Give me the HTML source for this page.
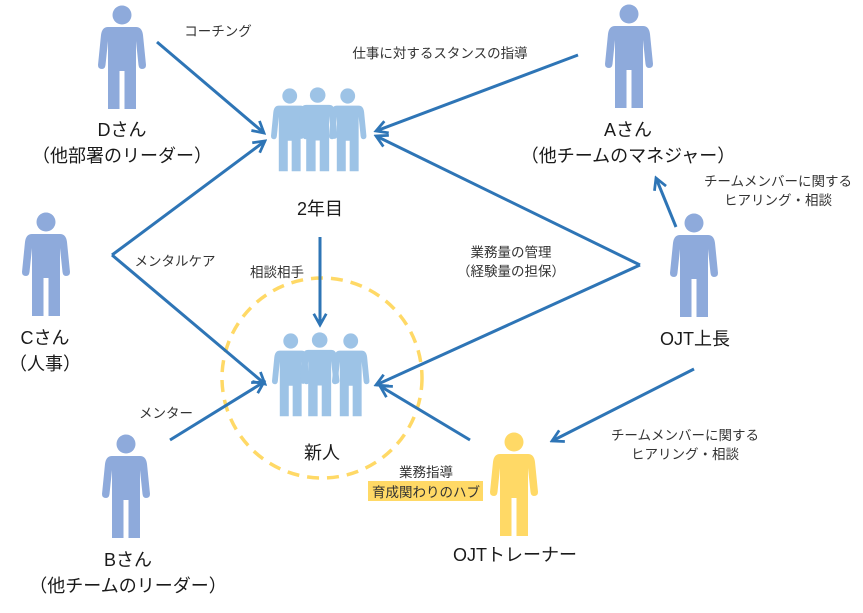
<!DOCTYPE html>
<html><head><meta charset="utf-8">
<style>
html,body{margin:0;padding:0;background:#fff;}
svg{display:block;}
text{font-family:"Liberation Sans","Noto Sans CJK JP",sans-serif;fill:#1a1a1a;}
.big{font-size:18px;}
.sm{font-size:13.5px;fill:#333;}
</style></head><body>
<svg width="863" height="613" viewBox="0 0 863 613" xmlns="http://www.w3.org/2000/svg">
<defs>
<g id="p">
<circle cx="24" cy="10" r="9.5"/>
<path d="M10 22 H38 Q44 22 45 30 L48 60 Q48 64 44 64 Q41 64 40.5 60 L38 36 V104 H26.5 V66 H21.5 V104 H10 V36 L7.5 60 Q7 64 4 64 Q0 64 0 60 L3 30 Q4 22 10 22 Z"/>
</g>
<marker id="a" viewBox="0 0 12 12" refX="10" refY="6" markerWidth="5" markerHeight="5" orient="auto" markerUnits="strokeWidth">
<path d="M1 1 L10 6 L1 11" fill="none" stroke="#2e75b6" stroke-width="2.2"/>
</marker>
</defs>

<circle cx="322" cy="378" r="100" fill="none" stroke="#ffd966" stroke-width="3.5" stroke-dasharray="12 8"/>

<use href="#p" x="98" y="5" fill="#8eaadb"/>
<use href="#p" x="605" y="4" fill="#8eaadb"/>
<use href="#p" x="22" y="212" fill="#8eaadb"/>
<use href="#p" x="670" y="213" fill="#8eaadb"/>
<use href="#p" x="102" y="434" fill="#8eaadb"/>
<use href="#p" x="490" y="432" fill="#ffd966"/>

<g fill="#9dc3e6">
<use href="#p" transform="translate(271,88) scale(0.78,0.8)"/>
<use href="#p" transform="translate(329,88) scale(0.78,0.8)"/>
<use href="#p" transform="translate(298,87) scale(0.82,0.81)"/>
<use href="#p" transform="translate(272,333) scale(0.78,0.8)"/>
<use href="#p" transform="translate(332,333) scale(0.78,0.8)"/>
<use href="#p" transform="translate(300,332) scale(0.82,0.81)"/>
</g>

<g stroke="#2e75b6" stroke-width="3" fill="none">
<line x1="157" y1="42" x2="264" y2="133" marker-end="url(#a)"/>
<line x1="112" y1="255" x2="265" y2="141" marker-end="url(#a)"/>
<line x1="112" y1="255" x2="265" y2="384" marker-end="url(#a)"/>
<line x1="578" y1="55" x2="376" y2="131" marker-end="url(#a)"/>
<line x1="640" y1="265" x2="376" y2="136" marker-end="url(#a)"/>
<line x1="640" y1="265" x2="376" y2="385" marker-end="url(#a)"/>
<line x1="320" y1="237" x2="320" y2="325" marker-end="url(#a)"/>
<line x1="170" y1="440" x2="264" y2="382" marker-end="url(#a)"/>
<line x1="470" y1="440" x2="380" y2="386" marker-end="url(#a)"/>
<line x1="676" y1="227" x2="656" y2="178" marker-end="url(#a)"/>
<line x1="694" y1="369" x2="552" y2="441" marker-end="url(#a)"/>
</g>

<rect x="368" y="481" width="115" height="20" fill="#ffd966"/>

<g text-anchor="middle">
<text class="big" x="122" y="136">Dさん</text>
<text class="big" x="122" y="162">（他部署のリーダー）</text>
<text class="big" x="320" y="215">2年目</text>
<text class="big" x="628" y="136">Aさん</text>
<text class="big" x="628" y="162">（他チームのマネジャー）</text>
<text class="big" x="45" y="344">Cさん</text>
<text class="big" x="45" y="370">（人事）</text>
<text class="big" x="695" y="345">OJT上長</text>
<text class="big" x="322" y="459">新人</text>
<text class="big" x="128" y="566">Bさん</text>
<text class="big" x="128" y="592">（他チームのリーダー）</text>
<text class="big" x="515" y="561">OJTトレーナー</text>

<text class="sm" x="218" y="36">コーチング</text>
<text class="sm" x="440" y="58">仕事に対するスタンスの指導</text>
<text class="sm" x="175" y="266">メンタルケア</text>
<text class="sm" x="277" y="277">相談相手</text>
<text class="sm" x="511" y="257">業務量の管理</text>
<text class="sm" x="511" y="276">（経験量の担保）</text>
<text class="sm" x="778" y="186">チームメンバーに関する</text>
<text class="sm" x="778" y="205">ヒアリング・相談</text>
<text class="sm" x="166" y="418">メンター</text>
<text class="sm" x="685" y="440">チームメンバーに関する</text>
<text class="sm" x="685" y="459">ヒアリング・相談</text>
<text class="sm" x="426" y="477">業務指導</text>
<text class="sm" x="426" y="497">育成関わりのハブ</text>
</g>
</svg>
</body></html>
